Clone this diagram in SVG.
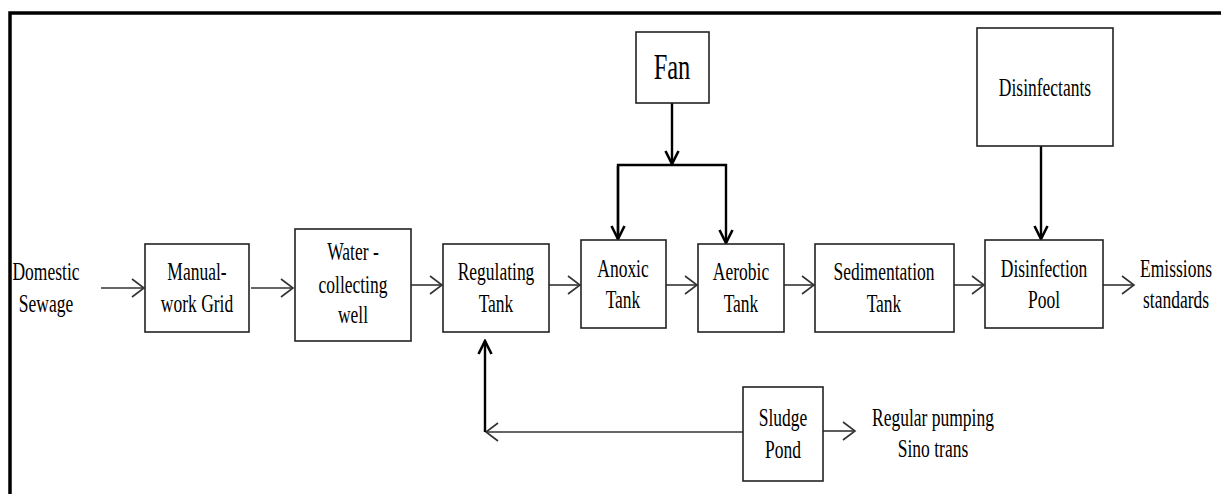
<svg xmlns="http://www.w3.org/2000/svg" width="1221" height="494" viewBox="0 0 1221 494">
<style>
.box{fill:#fff;stroke:#222;stroke-width:1.6}
.t{font-family:"Liberation Serif","Times New Roman",serif;font-size:25px;fill:#000;text-anchor:middle}
.fan{font-size:35px}
.thin{fill:none;stroke:#333;stroke-width:1.6}
.thick{fill:none;stroke:#000;stroke-width:2.4}
</style>
<defs>
<marker id="ah" markerUnits="userSpaceOnUse" viewBox="-14 -11 16 22" markerWidth="16" markerHeight="22" refX="0" refY="0" orient="auto">
<path d="M-12,-9 L0,0 L-12,9" fill="none" stroke="#333" stroke-width="1.6"/>
</marker>
<marker id="ahb" markerUnits="userSpaceOnUse" viewBox="-15 -9 17 18" markerWidth="17" markerHeight="18" refX="0" refY="0" orient="auto">
<path d="M-13,-6.5 L0,0 L-13,6.5" fill="none" stroke="#000" stroke-width="2.6"/>
</marker>
</defs>
<rect width="1221" height="494" fill="#fff"/>
<path d="M10,494 V13 H1221" fill="none" stroke="#000" stroke-width="3.5"/>

<g id="connectors">
<path class="thin" d="M101,288 H144" marker-end="url(#ah)"/>
<path class="thin" d="M251,288 H293" marker-end="url(#ah)"/>
<path class="thin" d="M411,285 H442" marker-end="url(#ah)"/>
<path class="thin" d="M549,285 H580" marker-end="url(#ah)"/>
<path class="thin" d="M666,285 H697" marker-end="url(#ah)"/>
<path class="thin" d="M784,285 H814" marker-end="url(#ah)"/>
<path class="thin" d="M954,285 H984" marker-end="url(#ah)"/>
<path class="thin" d="M1103,285 H1134" marker-end="url(#ah)"/>
<path class="thick" d="M672,103 V164" marker-end="url(#ahb)"/>
<path class="thick" d="M618,239 V165 H726 V243" marker-end="url(#ahb)"/>
<path class="thick" d="M618,166 V239" marker-end="url(#ahb)"/>
<path class="thick" d="M1041,146 V239" marker-end="url(#ahb)"/>
<path class="thin" d="M743,432 H486" marker-end="url(#ah)"/>
<path class="thick" d="M485,432 V341" marker-end="url(#ahb)"/>
<path class="thin" d="M823,431 H855" marker-end="url(#ah)"/>
</g>

<g id="domestic-sewage">
<text class="t" transform="translate(46,280) scale(0.7,1)">Domestic</text>
<text class="t" transform="translate(46,312) scale(0.7,1)">Sewage</text>
</g>
<g id="manual-work-grid">
<rect class="box" x="145" y="244" width="104" height="88"/>
<text class="t" transform="translate(197,280) scale(0.7,1)">Manual-</text>
<text class="t" transform="translate(197,312) scale(0.7,1)">work Grid</text>
</g>
<g id="water-collecting-well">
<rect class="box" x="295" y="229" width="116" height="112"/>
<text class="t" transform="translate(353,260) scale(0.7,1)">Water -</text>
<text class="t" transform="translate(353,293) scale(0.7,1)">collecting</text>
<text class="t" transform="translate(353,323) scale(0.7,1)">well</text>
</g>
<g id="regulating-tank">
<rect class="box" x="443" y="244" width="106" height="88"/>
<text class="t" transform="translate(496,280) scale(0.7,1)">Regulating</text>
<text class="t" transform="translate(496,312) scale(0.7,1)">Tank</text>
</g>
<g id="anoxic-tank">
<rect class="box" x="581" y="240" width="85" height="88"/>
<text class="t" transform="translate(623,277) scale(0.7,1)">Anoxic</text>
<text class="t" transform="translate(623,308) scale(0.7,1)">Tank</text>
</g>
<g id="aerobic-tank">
<rect class="box" x="698" y="244" width="86" height="88"/>
<text class="t" transform="translate(741,280) scale(0.7,1)">Aerobic</text>
<text class="t" transform="translate(741,312) scale(0.7,1)">Tank</text>
</g>
<g id="sedimentation-tank">
<rect class="box" x="815" y="244" width="139" height="88"/>
<text class="t" transform="translate(884,280) scale(0.7,1)">Sedimentation</text>
<text class="t" transform="translate(884,312) scale(0.7,1)">Tank</text>
</g>
<g id="disinfection-pool">
<rect class="box" x="985" y="240" width="118" height="88"/>
<text class="t" transform="translate(1044,277) scale(0.7,1)">Disinfection</text>
<text class="t" transform="translate(1044,308) scale(0.7,1)">Pool</text>
</g>
<g id="emissions-standards">
<text class="t" transform="translate(1176,277) scale(0.7,1)">Emissions</text>
<text class="t" transform="translate(1176,308) scale(0.7,1)">standards</text>
</g>
<g id="fan">
<rect class="box" x="636" y="32" width="73" height="71"/>
<text class="t fan" transform="translate(672,79) scale(0.7,1)">Fan</text>
</g>
<g id="disinfectants">
<rect class="box" x="977" y="28" width="136" height="118"/>
<text class="t" transform="translate(1045,96) scale(0.7,1)">Disinfectants</text>
</g>
<g id="sludge-pond">
<rect class="box" x="743" y="387" width="80" height="94"/>
<text class="t" transform="translate(783,426) scale(0.7,1)">Sludge</text>
<text class="t" transform="translate(783,458) scale(0.7,1)">Pond</text>
</g>
<g id="regular-pumping">
<text class="t" transform="translate(933,426) scale(0.7,1)">Regular pumping</text>
<text class="t" transform="translate(933,457) scale(0.7,1)">Sino  trans</text>
</g>
</svg>
